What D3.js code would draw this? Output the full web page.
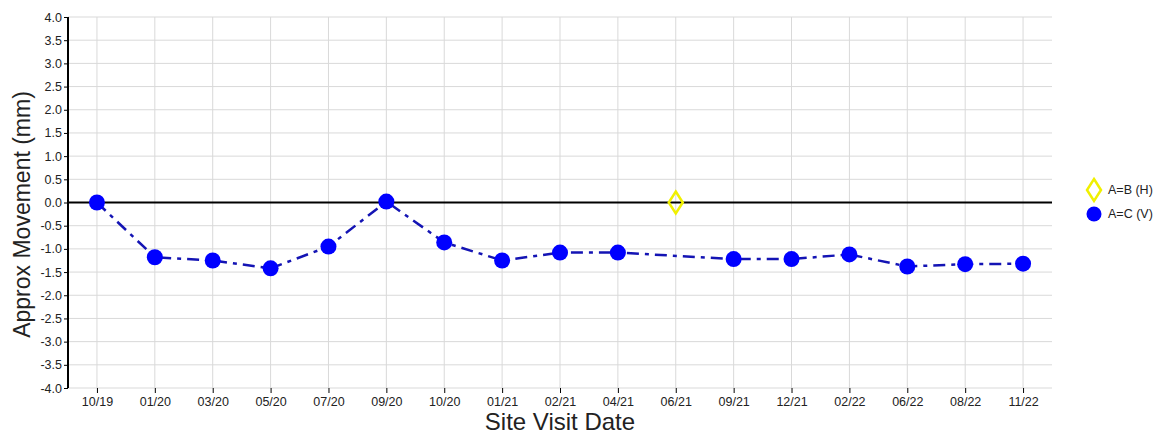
<!DOCTYPE html>
<html>
<head>
<meta charset="utf-8">
<script src="https://cdn.jsdelivr.net/npm/d3@7"></script>
<style>
  body { margin: 0; background: #fff; }
  svg, svg text { font-family: "Liberation Sans", Arial, sans-serif; }
</style>
</head>
<body>
<svg id="chart" width="1175" height="435"></svg>
<script>
const categories = ["10/19","01/20","03/20","05/20","07/20","09/20","10/20","01/21","02/21","04/21","06/21","09/21","12/21","02/22","06/22","08/22","11/22"];
const seriesV = [0.0,-1.18,-1.25,-1.42,-0.95,0.02,-0.86,-1.25,-1.08,-1.08,null,-1.22,-1.22,-1.12,-1.38,-1.33,-1.32];
const seriesH = [null,null,null,null,null,null,null,null,null,null,0.0,null,null,null,null,null,null];
const yTicks = [-4,-3.5,-3,-2.5,-2,-1.5,-1,-0.5,0,0.5,1,1.5,2,2.5,3,3.5,4];
const seriesNames = ["A=B (H)", "A=C (V)"];

const svg = d3.select("#chart");
const pL = 68, pR = 1052, pT = 17, pB = 388;

const x = d3.scalePoint().domain(categories).range([pL, pR]).padding(0.5);
const y = d3.scaleLinear().domain([-4, 4]).range([pB, pT]);

// grid
const g = svg.append("g");
g.selectAll("line.hg").data(yTicks).join("line")
  .attr("x1", pL).attr("x2", pR)
  .attr("y1", d => y(d)).attr("y2", d => y(d))
  .attr("stroke", "#d9d9d9").attr("stroke-width", 1);
g.selectAll("line.vg").data(categories).join("line")
  .attr("x1", d => x(d)).attr("x2", d => x(d))
  .attr("y1", pT).attr("y2", pB)
  .attr("stroke", "#d9d9d9").attr("stroke-width", 1);

// y axis
const yAxis = svg.append("g").attr("transform", `translate(${pL},0)`)
  .call(d3.axisLeft(y).tickValues(yTicks).tickFormat(d => d.toFixed(1)).tickSize(4).tickPadding(2));
yAxis.attr("font-family", null);
yAxis.select(".domain").attr("stroke", "#000").attr("stroke-width", 2).attr("d", `M0,${pT}V${pB}`);
yAxis.selectAll(".tick line").attr("stroke", "#000");
yAxis.selectAll("text").attr("fill", "#222").style("font-size", "12.5px");

// x axis
const xAxis = svg.append("g").attr("transform", `translate(0,${pB})`)
  .call(d3.axisBottom(x).tickSize(5).tickPadding(4));
xAxis.attr("font-family", null);
xAxis.select(".domain").remove();
xAxis.selectAll(".tick line").attr("stroke", "#000");
xAxis.selectAll("text").attr("fill", "#222").style("font-size", "12.5px");

// zero line
svg.append("line").attr("x1", pL).attr("x2", pR)
  .attr("y1", y(0)).attr("y2", y(0))
  .attr("stroke", "#000").attr("stroke-width", 2);

// V series line
const vData = categories.map((c, i) => ({c, v: seriesV[i]})).filter(d => d.v !== null);
svg.append("path").datum(vData)
  .attr("fill", "none").attr("stroke", "#1414b4").attr("stroke-width", 2.5)
  .attr("stroke-dasharray", "12,6,4,6")
  .attr("d", d3.line().x(d => x(d.c)).y(d => y(d.v)));
svg.selectAll("circle.v").data(vData).join("circle")
  .attr("cx", d => x(d.c)).attr("cy", d => y(d.v)).attr("r", 8)
  .attr("fill", "#0000ff");

// H series
const hData = categories.map((c, i) => ({c, v: seriesH[i]})).filter(d => d.v !== null);
const diamond = (cx, cy) => `M${cx},${cy-11}L${cx+7},${cy}L${cx},${cy+11}L${cx-7},${cy}Z`;
svg.selectAll("path.h").data(hData).join("path")
  .attr("d", d => diamond(x(d.c), y(d.v)))
  .attr("fill", "none").attr("stroke", "#f0f000").attr("stroke-width", 2.5);

// axis titles
svg.append("text").attr("x", (pL + pR) / 2).attr("y", 430)
  .attr("text-anchor", "middle").style("font-size", "24px").attr("fill", "#222")
  .text("Site Visit Date");
svg.append("text").attr("transform", `translate(30,${y(0) + 12}) rotate(-90)`)
  .attr("text-anchor", "middle").style("font-size", "23px").attr("fill", "#222")
  .text("Approx Movement (mm)");

// legend
const lg = svg.append("g");
lg.append("path").attr("d", diamond(1094, 190))
  .attr("fill", "none").attr("stroke", "#f0f000").attr("stroke-width", 2.5);
lg.append("circle").attr("cx", 1094).attr("cy", 214).attr("r", 7.5).attr("fill", "#0000ff");
lg.selectAll("text").data(seriesNames).join("text")
  .attr("x", 1108).attr("y", (d, i) => 190 + i * 24 + 4)
  .style("font-size", "12.5px").attr("fill", "#222").text(d => d);
</script>
</body>
</html>
